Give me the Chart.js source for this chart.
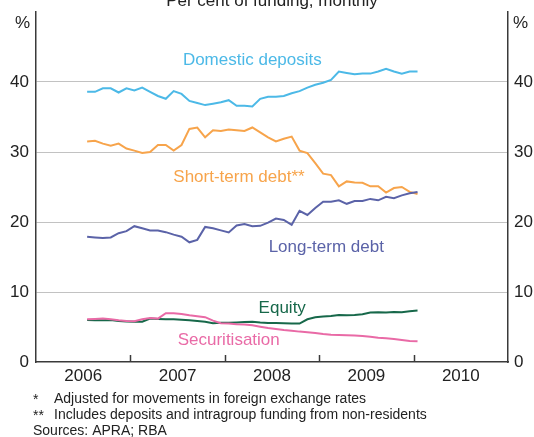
<!DOCTYPE html>
<html>
<head>
<meta charset="utf-8">
<title>Banks' funding composition</title>
<script src="https://cdn.jsdelivr.net/npm/chart.js@4.4.0/dist/chart.umd.min.js"></script>
<style>
  html, body { margin: 0; padding: 0; background: #fff; }
  #wrap { width: 534px; height: 437px; }
</style>
</head>
<body>
<div id="wrap"><canvas id="chart" width="534" height="437"></canvas></div>
<script>
// Monthly observations, Jul 2006 - Jan 2010
const months = [
    '2006-07', '2006-08', '2006-09', '2006-10', '2006-11', '2006-12',
    '2007-01', '2007-02', '2007-03', '2007-04', '2007-05', '2007-06',
    '2007-07', '2007-08', '2007-09', '2007-10', '2007-11', '2007-12',
    '2008-01', '2008-02', '2008-03', '2008-04', '2008-05', '2008-06',
    '2008-07', '2008-08', '2008-09', '2008-10', '2008-11', '2008-12',
    '2009-01', '2009-02', '2009-03', '2009-04', '2009-05', '2009-06',
    '2009-07', '2009-08', '2009-09', '2009-10', '2009-11', '2009-12',
    '2010-01'
];

const domesticDeposits = [
    38.6, 38.6, 39.1, 39.1, 38.5, 39.1, 38.8, 39.2, 38.6, 38.0, 37.6, 38.7,
    38.3, 37.3, 37.0, 36.7, 36.9, 37.1, 37.4, 36.6, 36.6, 36.5, 37.6, 37.9,
    37.9, 38.0, 38.4, 38.7, 39.2, 39.6, 39.9, 40.3, 41.5, 41.3, 41.1, 41.2,
    41.2, 41.5, 41.9, 41.5, 41.2, 41.5, 41.5
];
const shortTermDebt = [
    31.5, 31.6, 31.2, 30.9, 31.2, 30.5, 30.2, 29.85, 30.0, 31.0, 31.0, 30.2,
    31.0, 33.3, 33.5, 32.1, 33.1, 33.0, 33.2, 33.1, 33.0, 33.5, 32.8, 32.1,
    31.5, 31.9, 32.2, 30.2, 29.85, 28.4, 26.9, 26.7, 25.1, 25.8, 25.65, 25.6,
    25.1, 25.1, 24.2, 24.85, 25.0, 24.3, 24.0
];
const longTermDebt = [
    17.9, 17.8, 17.7, 17.8, 18.4, 18.7, 19.4, 19.1, 18.8, 18.8, 18.55, 18.2,
    17.9, 17.1, 17.45, 19.3, 19.1, 18.8, 18.5, 19.5, 19.7, 19.4, 19.45, 19.9,
    20.5, 20.3, 19.6, 21.6, 21.0, 22.0, 22.9, 22.9, 23.1, 22.6, 23.0, 23.0,
    23.3, 23.1, 23.6, 23.4, 23.8, 24.1, 24.3
];
const equity = [
    6.0, 5.95, 5.95, 6.0, 5.85, 5.8, 5.75, 5.75, 6.2, 6.15, 6.1, 6.1,
    6.05, 5.95, 5.85, 5.75, 5.55, 5.6, 5.6, 5.65, 5.7, 5.75, 5.63, 5.58,
    5.58, 5.53, 5.49, 5.49, 6.1, 6.4, 6.49, 6.58, 6.72, 6.67, 6.72, 6.82,
    7.06, 7.1, 7.06, 7.15, 7.1, 7.25, 7.34
];
const securitisation = [
    6.1, 6.15, 6.2, 6.1, 5.96, 5.87, 5.82, 6.1, 6.3, 6.2, 6.96, 6.96,
    6.87, 6.67, 6.53, 6.4, 5.91, 5.53, 5.49, 5.39, 5.34, 5.25, 5.05, 4.86,
    4.72, 4.58, 4.48, 4.34, 4.25, 4.15, 4.0, 3.9, 3.86, 3.82, 3.77, 3.72,
    3.62, 3.48, 3.38, 3.29, 3.15, 3.0, 2.96
];

const yearLabels = ['2006', '2007', '2008', '2009', '2010'];
const yTickValues = [0, 10, 20, 30, 40, 50];

const FONT = "'Liberation Sans', Arial, sans-serif";
const colors = {
    domestic: '#4cb9e7',
    shortTerm: '#f7a44b',
    longTerm: '#5b63a8',
    equity: '#17684a',
    securitisation: '#e96aa6',
    grid: '#c2c2c2',
    axis: '#3a3a3a',
    text: '#222222'
};

// months since Jan 2006, plotted mid-month
function monthPos(s) {
    const parts = s.split('-').map(Number);
    return (parts[0] - 2006) * 12 + (parts[1] - 1) + 0.5;
}

function series(values) {
    return months.map((m, i) => ({ x: monthPos(m), y: values[i] }));
}

// in-chart series labels: anchor = centre x (months), baseline y (per cent)
const seriesLabels = [
    { text: 'Domestic deposits', color: colors.domestic, x: 27.5, y: 42.5 },
    { text: 'Short-term debt**', color: colors.shortTerm, x: 25.8, y: 25.75 },
    { text: 'Long-term debt', color: colors.longTerm, x: 36.9, y: 15.65 },
    { text: 'Equity', color: colors.equity, x: 31.3, y: 7.03 },
    { text: 'Securitisation', color: colors.securitisation, x: 24.5, y: 2.43 }
];

const decorations = {
    id: 'decorations',
    afterDatasetsDraw(chart) {
        const ctx = chart.ctx;
        const area = chart.chartArea;
        const xs = chart.scales.x;
        const ys = chart.scales.y;

        ctx.save();
        // year boundary ticks, pointing into the plot
        ctx.strokeStyle = colors.axis;
        ctx.lineWidth = 1.5;
        for (let v = 12; v < 60; v += 12) {
            const px = Math.round(xs.getPixelForValue(v)) + 0.5;
            ctx.beginPath();
            ctx.moveTo(px, area.bottom);
            ctx.lineTo(px, area.bottom - 7);
            ctx.stroke();
        }

        ctx.font = '17px ' + FONT;
        ctx.textBaseline = 'alphabetic';
        seriesLabels.forEach(l => {
            ctx.fillStyle = l.color;
            ctx.textAlign = 'center';
            ctx.fillText(l.text, xs.getPixelForValue(l.x), ys.getPixelForValue(l.y));
        });

        ctx.fillStyle = colors.text;
        ctx.textAlign = 'center';
        ctx.fillText('Per cent of funding, monthly', (area.left + area.right) / 2, 6);

        ctx.textAlign = 'right';
        ctx.fillText('%', area.left - 6, 28);
        ctx.textAlign = 'left';
        ctx.fillText('%', area.right + 5, 28);

        // footnotes
        ctx.font = '14px ' + FONT;
        ctx.textAlign = 'left';
        ctx.fillText('*', 33, 404);
        ctx.fillText('Adjusted for movements in foreign exchange rates', 54, 403);
        ctx.fillText('**', 33, 420);
        ctx.fillText('Includes deposits and intragroup funding from non-residents', 54, 419);
        ctx.fillText('Sources: APRA; RBA', 33, 435);
        ctx.restore();
    }
};

const yTicksCommon = {
    min: 0,
    max: 50,
    afterBuildTicks: s => { s.ticks = yTickValues.map(v => ({ value: v })); }
};

// fixed axis widths, no label overflow padding so the plot spans 12..362 px
function fixWidth(w) {
    return s => {
        s.width = w;
        s.paddingTop = 0;
        s.paddingBottom = 0;
    };
}

new Chart(document.getElementById('chart'), {
    type: 'line',
    data: {
        datasets: [
            { label: 'Domestic deposits', data: series(domesticDeposits), borderColor: colors.domestic },
            { label: 'Long-term debt', data: series(longTermDebt), borderColor: colors.longTerm },
            { label: 'Short-term debt', data: series(shortTermDebt), borderColor: colors.shortTerm },
            { label: 'Securitisation', data: series(securitisation), borderColor: colors.securitisation },
            { label: 'Equity', data: series(equity), borderColor: colors.equity }
        ]
    },
    options: {
        responsive: false,
        animation: false,
        devicePixelRatio: 1,
        layout: { padding: { top: 12, left: 0, right: 0, bottom: 0 } },
        elements: {
            line: { borderWidth: 2, tension: 0, fill: false },
            point: { radius: 0, hoverRadius: 0 }
        },
        plugins: {
            legend: { display: false },
            tooltip: { enabled: false }
        },
        scales: {
            x: {
                type: 'linear',
                position: 'bottom',
                min: 0,
                max: 60,
                afterBuildTicks: s => { s.ticks = yearLabels.map((y, i) => ({ value: 6 + 12 * i })); },
                afterFit: s => { s.height = 75; s.paddingLeft = 0; s.paddingRight = 0; },
                grid: { drawOnChartArea: false, drawTicks: false, color: 'transparent' },
                border: { display: true, color: colors.axis, width: 1.5 },
                ticks: {
                    autoSkip: false,
                    maxRotation: 0,
                    padding: 4,
                    color: colors.text,
                    font: { family: FONT, size: 17 },
                    callback: v => yearLabels[Math.round((v - 6) / 12)]
                }
            },
            y: Object.assign({}, yTicksCommon, {
                position: 'left',
                afterFit: fixWidth(36),
                grid: {
                    drawTicks: false,
                    lineWidth: 1,
                    color: c => (c.tick && c.tick.value > 0 && c.tick.value < 50) ? colors.grid : 'transparent'
                },
                border: { display: true, color: colors.axis, width: 1.5 },
                ticks: {
                    padding: 7,
                    color: colors.text,
                    font: { family: FONT, size: 17 },
                    callback: v => v === 50 ? '' : v
                }
            }),
            y2: Object.assign({}, yTicksCommon, {
                position: 'right',
                afterFit: fixWidth(26),
                grid: { drawOnChartArea: false, drawTicks: false },
                border: { display: true, color: colors.axis, width: 1.5 },
                ticks: {
                    padding: 6,
                    color: colors.text,
                    font: { family: FONT, size: 17 },
                    callback: v => v === 50 ? '' : v
                }
            })
        }
    },
    plugins: [decorations]
});
</script>
</body>
</html>
